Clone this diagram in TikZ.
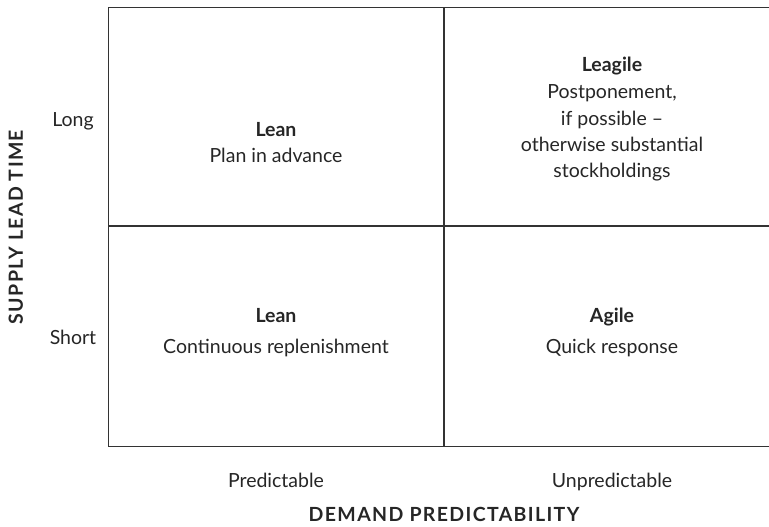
\documentclass[tikz,border=0pt]{standalone}
\usepackage{fontspec}
\setmainfont{Lato}
\begin{document}
\begin{tikzpicture}[x=1pt,y=-1pt,
  txt/.style={font=\fontsize{19.5}{26}\selectfont, text=black!85, anchor=base, inner sep=0pt},
  hd/.style={font=\fontsize{19.5}{26}\selectfont\bfseries, text=black!85, anchor=base, inner sep=0pt},
  axis/.style={font=\fontsize{19.5}{26}\selectfont\bfseries\addfontfeature{LetterSpace=7}, text=black!85, anchor=base, inner sep=0pt},
  frame/.style={draw=black!80, line width=1.8pt}]
\useasboundingbox (0,0) rectangle (769,527);
\draw[frame] (108.5,7.5) rectangle (790,446.5);
\draw[frame] (444,7.5) -- (444,446.5);
\draw[frame] (108.5,226) -- (790,226);
% quadrant texts
\node[hd] (lean1) at (276,136) {Lean};
\node[txt] (plan) at (276,162) {Plan in advance};
\node[hd] (leagile) at (612,72) {Leagile};
\node[txt] (post1) at (612,99) {Postponement,};
\node[txt] (post2) at (612,125) {if possible --};
\node[txt] (post3) at (612,151) {otherwise substantial};
\node[txt] (post4) at (612,177) {stockholdings};
\node[hd] (lean2) at (276,322) {Lean};
\node[txt] (cont) at (276,353) {Continuous replenishment};
\node[hd] (agile) at (612,322) {Agile};
\node[txt] (quick) at (612,353) {Quick response};
% axis labels
\node[txt] (long) at (73,127) {Long};
\node[txt] (short) at (73,344) {Short};
\node[txt] (pred) at (276,487) {Predictable};
\node[txt] (unpred) at (612,487) {Unpredictable};
\node[axis] (demand) at (444,521) {DEMAND PREDICTABILITY};
\node[axis, rotate=90] (supply) at (23,227) {SUPPLY LEAD TIME};
\end{tikzpicture}
\end{document}
